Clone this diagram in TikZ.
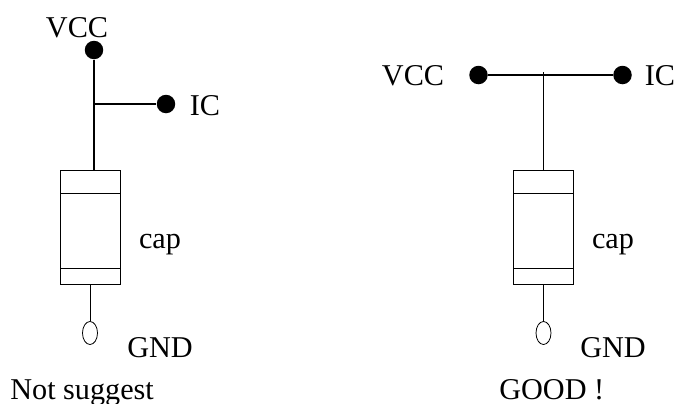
\documentclass[tikz,border=0pt]{standalone}
\usepackage{fontspec}
\setmainfont{Liberation Serif}
\usetikzlibrary{shapes.geometric}
\tikzset{
  dot/.style={circle,fill=black,draw=none,minimum size=0.37cm,inner sep=0pt},
  capbox/.style={rectangle,draw,line width=0.45pt,minimum width=1.2cm,minimum height=2.28cm,inner sep=0pt},
  gndpad/.style={ellipse,draw,line width=0.45pt,minimum width=0.3cm,minimum height=0.46cm,inner sep=0pt},
  lbl/.style={inner sep=0pt,anchor=base,font=\fontsize{17.2}{18}\selectfont}
}
\begin{document}
\begin{tikzpicture}
[x=0.02cm,y=-0.02cm,color=black]
\useasboundingbox (0,0) rectangle (677,403);
% not suggested layout
  \node [dot] (v1) at (94,50) {};
  \node [dot] (i1) at (166,104) {};
  \coordinate (j1) at (94,104);
  \coordinate (t1) at (94,170);
  \node [capbox] (c1) at (90,227) {};
  \coordinate (a1) at (60,193);
  \coordinate (b1) at (120,193);
  \coordinate (d1) at (60,268.5);
  \coordinate (e1) at (120,268.5);
  \node [gndpad] (g1) at (90,333) {};
  \node [lbl] (vl1) at (77,37) {VCC};
  \node [lbl] (il1) at (205,115) {IC};
  \node [lbl] (cl1) at (160,248) {cap};
  \node [lbl] (gl1) at (160,357) {GND};
  \node [lbl,anchor=base west] (nl1) at (10,399) {Not suggest};
% good layout
  \node [dot] (v2) at (478.5,75) {};
  \node [dot] (i2) at (622.5,75) {};
  \coordinate (j2) at (543.5,72);
  \coordinate (t2) at (543.5,170);
  \node [capbox] (c2) at (543.5,227) {};
  \coordinate (a2) at (513.5,193);
  \coordinate (b2) at (573.5,193);
  \coordinate (d2) at (513.5,268.5);
  \coordinate (e2) at (573.5,268.5);
  \node [gndpad] (g2) at (543.5,333) {};
  \node [lbl] (vl2) at (413,85) {VCC};
  \node [lbl] (il2) at (660,85) {IC};
  \node [lbl] (cl2) at (613,248) {cap};
  \node [lbl] (gl2) at (613,357) {GND};
  \node [lbl,anchor=base west] (nl2) at (499,399) {GOOD !};
  \foreach \from/\to in {v1/t1,j1/i1,v2/i2}
  \draw[line width=1.1pt] (\from) -- (\to);
  \foreach \from/\to in {a1/b1,d1/e1,a2/b2,d2/e2,j2/t2}
  \draw[line width=0.45pt] (\from) -- (\to);
  \foreach \from/\to in {c1/g1,c2/g2}
  \draw[line width=0.45pt] (\from.south) -- (\to.north);
\end{tikzpicture}
\end{document}
